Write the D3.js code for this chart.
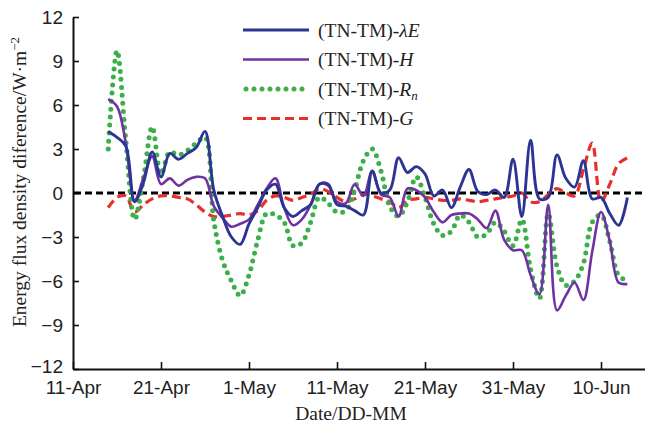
<!DOCTYPE html>
<html>
<head>
<meta charset="utf-8">
<script src="https://cdn.jsdelivr.net/npm/d3@7"></script>
<style>
  body { margin: 0; background: #fff; }
  svg { font-family: "Liberation Serif", "Times New Roman", serif; }
  .tick-label { font-size: 19px; fill: #222; }
</style>
</head>
<body>
<div id="chart"></div>
<script>
// daily values, 15-Apr to 13-Jun
const firstDay = "2013-04-15";
const lastDay = "2013-06-14";

const lambdaE = [4.2, 3.8, 3.2, -0.6, 0.7, 2.8, 1.1, 2.7, 2.3, 2.7, 3.1, 4.2,
  0.2, -1.6, -3.0, -3.5, -2.1, -1.0, 0.2, 0.6, -1.0, -1.6, -1.2, -0.8, 0.6, 0.6,
  -0.8, -0.9, -1.2, -1.5, 1.5, 0.0, 0.2, 2.4, 1.4, 1.8, 1.3, -0.2, 0.2, -1.0,
  0.4, 1.6, 0.1, -0.1, 0.2, -0.3, 2.3, -1.6, 3.6, -0.4, -0.3, 2.6, 1.0, 0.4,
  2.2, -0.4, -0.3, -1.4, -2.2, -0.3];

const sensH = [6.4, 5.9, 3.4, -0.5, 1.0, 2.5, 0.6, 1.0, 0.5, 0.9, 1.1, 1.0,
  -0.9, -1.7, -2.3, -2.1, -1.8, -0.8, 0.3, 1.0, -1.0, -2.2, -1.8, -0.8, 0.6, 0.5,
  -0.6, -0.7, 0.6, -0.2, 1.5, -0.1, -0.3, -1.6, 0.3, 0.2, -0.3, -1.3, -2.0, -1.5,
  -1.4, -1.4, -1.8, -2.4, -1.2, -3.2, -3.9, -3.9, -5.6, -6.9, -0.8, -8.0, -7.0, -6.1,
  -7.3, -4.0, -1.3, -3.3, -6.1, -6.2];

const netRn = [3.0, 9.7, 3.6, -1.8, 1.0, 4.5, 1.3, 2.8, 2.6, 2.9, 3.4, 3.8,
  -1.9, -4.6, -6.0, -7.0, -5.6, -3.2, -1.4, -1.5, -2.0, -3.6, -3.4, -2.0, -0.3, -0.7,
  -1.3, -1.2, 0.2, 2.2, 3.0, 1.5, -0.9, -1.6, -0.6, 1.1, -0.3, -2.1, -2.9, -2.6,
  -1.5, -2.0, -3.0, -2.8, -2.0, -2.6, -3.6, -1.8, -5.2, -7.2, -1.4, -5.0, -6.3, -6.0,
  -4.8, -2.0, -1.5, -3.3, -5.6, -6.0];

const soilG = [-1.0, -0.3, -0.2, -1.3, -0.8, -0.4, -0.2, -0.2, -0.3, -0.4, -0.8, -1.3,
  -1.6, -1.6, -1.5, -1.4, -1.5, -1.2, -0.5, -0.2, -0.3, -0.5, -0.3, -0.1, 0.3, 0.1,
  -0.3, -0.6, -0.4, -0.1, -0.2, -0.4, -0.6, -1.0, -0.5, -0.4, -0.3, -0.4, -0.5, -0.5,
  -0.4, -0.5, -0.6, -0.5, -0.4, -0.3, -0.2, 0.0, -0.6, -0.6, -0.1, 0.3, 0.0, -0.2,
  1.6, 3.4, -0.6, 0.6, 2.0, 2.4];

const xTicks = ["2013-04-11", "2013-04-21", "2013-05-01", "2013-05-11", "2013-05-21", "2013-05-31", "2013-06-10"];
const yTicks = [-12, -9, -6, -3, 0, 3, 6, 9, 12];

const seriesNames = ["(TN-TM)-", "(TN-TM)-", "(TN-TM)-", "(TN-TM)-"];
const seriesSymbols = ["λE", "H", "R", "G"];

const width = 645, height = 426;
const margin = { top: 17, right: 0, bottom: 57, left: 73 };

const parse = d3.timeParse("%Y-%m-%d");
const dates = d3.timeDay.range(parse(firstDay), parse(lastDay));

const svg = d3.select("#chart").append("svg")
    .attr("width", width)
    .attr("height", height);

const x = d3.scaleTime()
    .domain([parse("2013-04-11"), parse("2013-06-15")])
    .range([margin.left, width - margin.right]);

const y = d3.scaleLinear()
    .domain([-12, 12])
    .range([height - margin.bottom, margin.top]);

// axes
const xAxis = svg.append("g")
    .attr("transform", `translate(0,${y(-12)})`)
    .call(d3.axisBottom(x)
        .tickValues(xTicks.map(parse))
        .tickSizeInner(-7).tickSizeOuter(0)
        .tickFormat(d3.timeFormat("%-d-%b")));
xAxis.select(".domain").attr("stroke", "#111").attr("stroke-width", 2);
xAxis.selectAll(".tick line").attr("stroke", "#111").attr("stroke-width", 1.6);
xAxis.selectAll(".tick text")
    .attr("class", "tick-label")
    .attr("font-family", null).attr("font-size", null)
    .attr("y", 12);

const yAxis = svg.append("g")
    .attr("transform", `translate(${margin.left},0)`)
    .call(d3.axisLeft(y)
        .tickValues(yTicks)
        .tickSizeInner(-6).tickSizeOuter(0)
        .tickFormat(d => d < 0 ? "\u2212" + Math.abs(d) : d));
yAxis.select(".domain").attr("stroke", "#111").attr("stroke-width", 2);
yAxis.selectAll(".tick line").attr("stroke", "#111").attr("stroke-width", 1.6);
yAxis.selectAll(".tick text")
    .attr("class", "tick-label")
    .attr("font-family", null).attr("font-size", null)
    .attr("x", -10);
// lowest label sits a little higher, as in the original
yAxis.selectAll(".tick text").filter(d => d === -12).attr("dy", "0.2em");

// zero line
svg.append("line")
    .attr("x1", x.range()[0] + 1).attr("x2", x.range()[1])
    .attr("y1", y(0)).attr("y2", y(0))
    .attr("stroke", "#000")
    .attr("stroke-width", 2.8)
    .attr("stroke-dasharray", "7 4");

const line = d3.line()
    .x((d, i) => x(dates[i]))
    .y(d => y(d))
    .curve(d3.curveCatmullRom.alpha(0.5));

const styles = [
    { data: soilG, color: "#e8302a", width: 3.2, dash: "9 5", cap: "butt" },
    { data: netRn, color: "#3aaf4a", width: 5, dash: "0 8", cap: "round" },
    { data: sensH, color: "#7032a3", width: 2.6, dash: null, cap: "butt" },
    { data: lambdaE, color: "#2c3593", width: 2.9, dash: null, cap: "butt" }
];

svg.append("g")
    .selectAll("path")
    .data(styles)
    .enter()
    .append("path")
    .attr("d", d => line(d.data))
    .attr("fill", "none")
    .attr("stroke", d => d.color)
    .attr("stroke-width", d => d.width)
    .attr("stroke-dasharray", d => d.dash)
    .attr("stroke-linecap", d => d.cap);

// legend
const legendStyles = [styles[3], styles[2], styles[1], styles[0]];
const legend = svg.append("g");
legendStyles.forEach((s, i) => {
    const ly = 30 + i * 29.5;
    legend.append("line")
        .attr("x1", s.cap === "round" ? 246 : 243).attr("x2", 309)
        .attr("y1", ly).attr("y2", ly)
        .attr("stroke", s.color)
        .attr("stroke-width", s.width)
        .attr("stroke-dasharray", s.dash)
        .attr("stroke-linecap", s.cap);
    const t = legend.append("text")
        .attr("x", 318).attr("y", ly + 6.5)
        .attr("font-size", 19.5)
        .attr("fill", "#222");
    t.append("tspan").text(seriesNames[i]);
    t.append("tspan").attr("font-style", "italic").text(seriesSymbols[i]);
    if (seriesSymbols[i] === "R") {
        t.append("tspan").attr("font-style", "italic")
            .attr("font-size", 13).attr("dy", 4).text("n");
    }
});

// axis titles
svg.append("text")
    .attr("x", (margin.left + width) / 2 - 8)
    .attr("y", 420)
    .attr("text-anchor", "middle")
    .attr("font-size", 19.5)
    .attr("fill", "#222")
    .text("Date/DD-MM");

const yt = svg.append("text")
    .attr("transform", `translate(26,${182}) rotate(-90)`)
    .attr("text-anchor", "middle")
    .attr("font-size", 19.5)
    .attr("fill", "#222");
yt.append("tspan").text("Energy flux density diference/W\u00b7m");
yt.append("tspan").attr("font-size", 13).attr("dy", -7).text("\u22122");
</script>
</body>
</html>
